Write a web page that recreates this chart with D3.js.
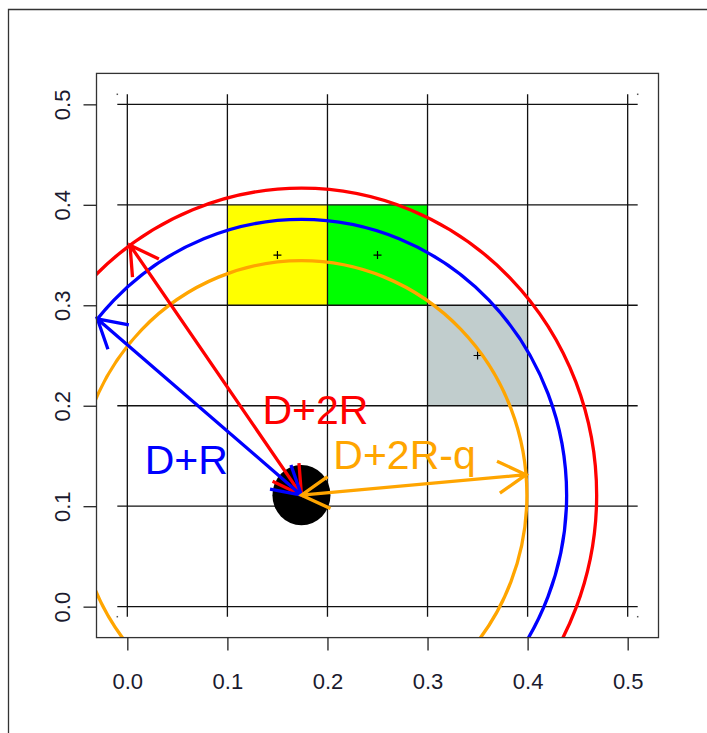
<!DOCTYPE html>
<html>
<head>
<meta charset="utf-8">
<script src="https://cdn.jsdelivr.net/npm/d3@7"></script>
<style>
  html, body { margin: 0; padding: 0; background: #fff; }
  svg { display: block; font-family: Arial, "Liberation Sans", sans-serif; }
</style>
</head>
<body>
<svg id="chart" width="707" height="733"></svg>
<script>
// --- data ---
const ticks = [0, 0.1, 0.2, 0.3, 0.4, 0.5];
const gridExtent = [-0.01, 0.51];
const cornerDots = [[-0.01, -0.01], [0.51, -0.01], [-0.01, 0.51], [0.51, 0.51]];

// shaded cells: [x0, y0] lower-left corner, cell size 0.1
const cellX = [0.1, 0.2, 0.3];
const cellY = [0.3, 0.3, 0.2];
const cellColors = ['#ffff00', '#00ff00', '#c1cdcd'];
const cellSize = 0.1;

// target point and its radius
const center = [0.174, 0.111];
const dotRadius = 0.029;

// circles: D+2R, D+R, D+2R-q
const circleLabels = ['D+2R', 'D+R', 'D+2R-q'];
const circleRadii = [0.295, 0.265, 0.2253];
const circleColors = ['#ff0000', '#0000ff', '#ffa500'];
const arrowAngles = [125.5, 140.3, 5];          // degrees
const labelX = [0.188, 0.059, 0.277];
const labelY = [0.196, 0.146, 0.1505];

// circles are drawn with R's aspect correction -> slightly taller than wide
const yMult = 1.036;

// --- layout ---
const plot = { left: 96.5, right: 658.5, top: 73.4, bottom: 637.6 };
const domain = [-0.0308, 0.5308];

const svg = d3.select('#chart');
const x = d3.scaleLinear().domain(domain).range([plot.left, plot.right]);
const y = d3.scaleLinear().domain(domain).range([plot.bottom, plot.top]);

// outer figure frame (runs off the right / bottom edge)
svg.append('path')
  .attr('d', 'M8.5,740 L8.5,9.5 L720,9.5')
  .attr('fill', 'none')
  .attr('stroke', '#333')
  .attr('stroke-width', 1.3);

svg.append('defs').append('clipPath')
  .attr('id', 'plot-clip')
  .append('rect')
  .attr('x', plot.left).attr('y', plot.top)
  .attr('width', plot.right - plot.left)
  .attr('height', plot.bottom - plot.top);

const g = svg.append('g');

// cells
g.selectAll('rect.cell')
  .data(cellX.map((cx, i) => ({ x0: cx, y0: cellY[i], color: cellColors[i] })))
  .join('rect')
  .attr('class', 'cell')
  .attr('x', d => x(d.x0))
  .attr('y', d => y(d.y0 + cellSize))
  .attr('width', d => x(d.x0 + cellSize) - x(d.x0))
  .attr('height', d => y(d.y0) - y(d.y0 + cellSize))
  .attr('fill', d => d.color);

// grid
g.selectAll('line.vgrid')
  .data(ticks)
  .join('line')
  .attr('class', 'vgrid')
  .attr('x1', d => x(d)).attr('x2', d => x(d))
  .attr('y1', y(gridExtent[0])).attr('y2', y(gridExtent[1]))
  .attr('stroke', '#111').attr('stroke-width', 1.3);

g.selectAll('line.hgrid')
  .data(ticks)
  .join('line')
  .attr('class', 'hgrid')
  .attr('y1', d => y(d)).attr('y2', d => y(d))
  .attr('x1', x(gridExtent[0])).attr('x2', x(gridExtent[1]))
  .attr('stroke', '#111').attr('stroke-width', 1.3);

g.selectAll('rect.dot')
  .data(cornerDots)
  .join('rect')
  .attr('class', 'dot')
  .attr('x', d => x(d[0]) - 0.75).attr('y', d => y(d[1]) - 0.75)
  .attr('width', 1.5).attr('height', 1.5)
  .attr('fill', '#555');

// cell centre crosses
g.selectAll('path.plus')
  .data(cellX.map((cx, i) => [cx + cellSize / 2, cellY[i] + cellSize / 2]))
  .join('path')
  .attr('class', 'plus')
  .attr('transform', d => `translate(${x(d[0])},${y(d[1])})`)
  .attr('d', 'M-4,0H4M0,-4V4')
  .attr('stroke', '#000').attr('stroke-width', 1.2);

// circles (clipped to the plot region)
const rx = r => x(r) - x(0);
const ry = r => y(0) - y(r * yMult);

const arcs = svg.append('g').attr('clip-path', 'url(#plot-clip)');
arcs.selectAll('ellipse.ring')
  .data(circleRadii.map((r, i) => ({ r, color: circleColors[i] })))
  .join('ellipse')
  .attr('class', 'ring')
  .attr('cx', x(center[0])).attr('cy', y(center[1]))
  .attr('rx', d => rx(d.r)).attr('ry', d => ry(d.r))
  .attr('fill', 'none')
  .attr('stroke', d => d.color)
  .attr('stroke-width', 3.3);

// target point
svg.append('ellipse')
  .attr('cx', x(center[0])).attr('cy', y(center[1]))
  .attr('rx', rx(dotRadius)).attr('ry', ry(dotRadius))
  .attr('fill', '#000');

// double-headed arrows from the centre to each circle
const headLen = 32;
const headAngle = Math.PI / 6;
function arrowPath(x0, y0, x1, y1) {
  let d = `M${x0},${y0}L${x1},${y1}`;
  [[x1, y1, x0, y0], [x0, y0, x1, y1]].forEach(([tx, ty, fx, fy]) => {
    const a = Math.atan2(ty - fy, tx - fx);
    const p1 = [tx - headLen * Math.cos(a - headAngle), ty - headLen * Math.sin(a - headAngle)];
    const p2 = [tx - headLen * Math.cos(a + headAngle), ty - headLen * Math.sin(a + headAngle)];
    d += `M${p1[0]},${p1[1]}L${tx},${ty}L${p2[0]},${p2[1]}`;
  });
  return d;
}

svg.selectAll('path.arrow')
  .data(circleRadii.map((r, i) => {
    const t = arrowAngles[i] * Math.PI / 180;
    return {
      color: circleColors[i],
      end: [center[0] + r * Math.cos(t), center[1] + r * yMult * Math.sin(t)]
    };
  }))
  .join('path')
  .attr('class', 'arrow')
  .attr('d', d => arrowPath(x(center[0]), y(center[1]), x(d.end[0]), y(d.end[1])))
  .attr('fill', 'none')
  .attr('stroke', d => d.color)
  .attr('stroke-width', 3.3)
  .attr('stroke-linecap', 'butt');

// labels
svg.selectAll('text.lab')
  .data(circleLabels.map((t, i) => ({ t, color: circleColors[i], lx: labelX[i], ly: labelY[i] })))
  .join('text')
  .attr('class', 'lab')
  .attr('x', d => x(d.lx)).attr('y', d => y(d.ly))
  .attr('text-anchor', 'middle')
  .attr('dominant-baseline', 'central')
  .attr('font-size', 41)
  .attr('fill', d => d.color)
  .text(d => d.t);

// plot box
svg.append('rect')
  .attr('x', plot.left).attr('y', plot.top)
  .attr('width', plot.right - plot.left)
  .attr('height', plot.bottom - plot.top)
  .attr('fill', 'none')
  .attr('stroke', '#333')
  .attr('stroke-width', 1.3);

// axes
const fmt = d3.format('.1f');
const xAxis = svg.append('g')
  .attr('transform', `translate(0,${plot.bottom})`)
  .call(d3.axisBottom(x).tickValues(ticks).tickFormat(fmt).tickSize(13));
const yAxis = svg.append('g')
  .attr('transform', `translate(${plot.left},0)`)
  .call(d3.axisLeft(y).tickValues(ticks).tickFormat(fmt).tickSize(13));

[xAxis, yAxis].forEach(ax => {
  ax.select('.domain').remove();
  ax.attr('font-family', 'Arial, "Liberation Sans", sans-serif').attr('font-size', 22);
  ax.selectAll('.tick line').attr('stroke', '#222').attr('stroke-width', 1.3);
  ax.selectAll('.tick text').attr('fill', '#1a1a2e');
});

xAxis.selectAll('.tick text')
  .attr('y', 51.5)
  .attr('dy', 0);

yAxis.selectAll('.tick text')
  .attr('text-anchor', 'middle')
  .attr('transform', 'rotate(-90)')
  .attr('x', 0)
  .attr('y', -27)
  .attr('dy', 0);
</script>
</body>
</html>
